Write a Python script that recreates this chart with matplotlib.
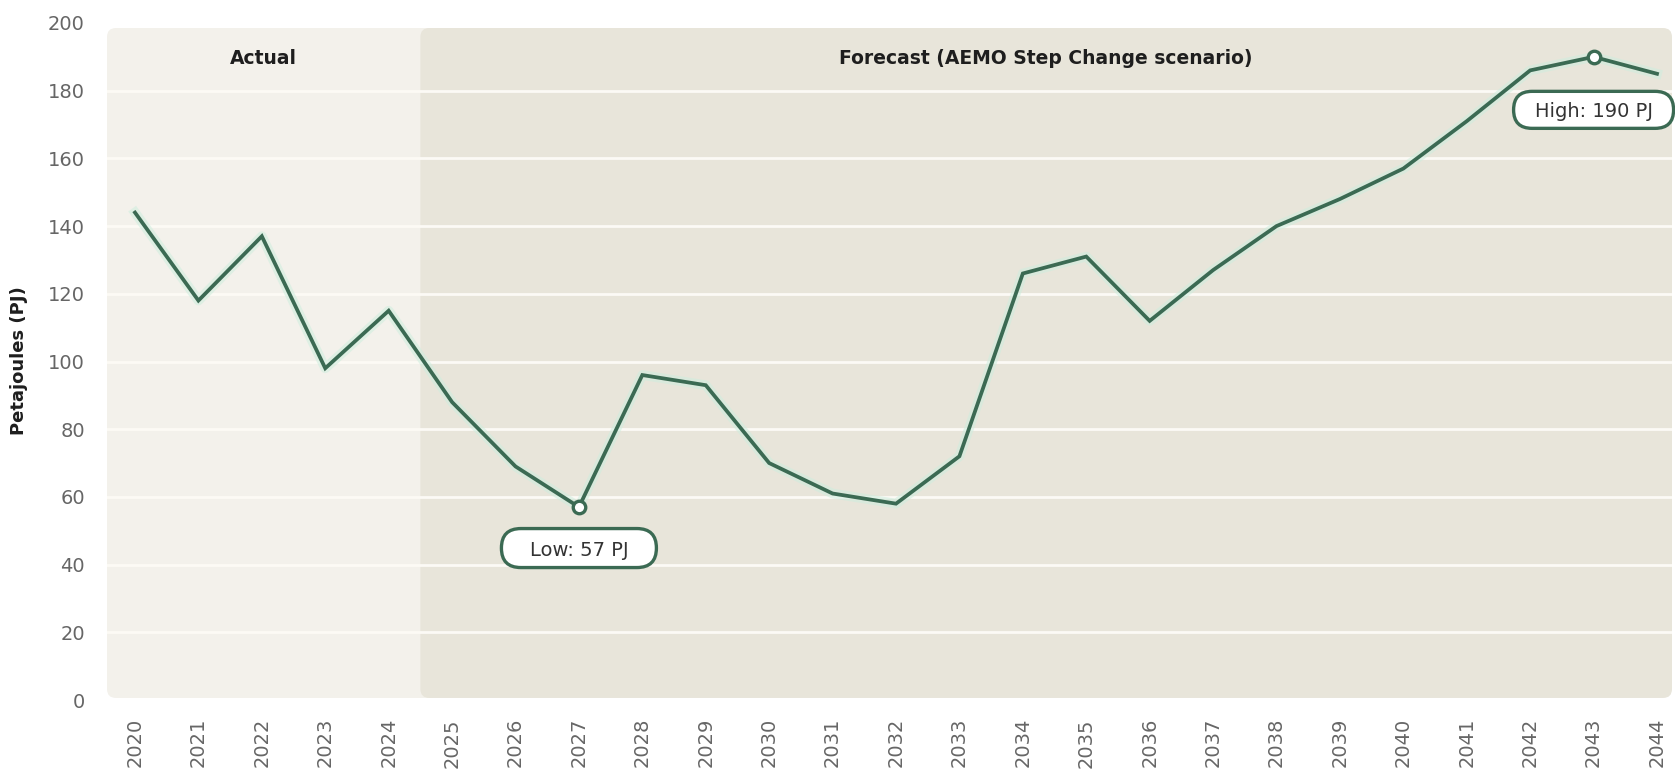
import matplotlib
matplotlib.use("Agg")
import matplotlib.pyplot as plt
import matplotlib.transforms as mtransforms
from matplotlib.patches import FancyBboxPatch

# ---- data -------------------------------------------------------------
years = [str(y) for y in range(2020, 2045)]
petajoules = [144, 118, 137, 98, 115, 88, 69, 57, 96, 93, 70, 61, 58, 72,
              126, 131, 112, 127, 140, 148, 157, 171, 186, 190, 185]
last_actual_year = "2024"
y_ticks = [0, 20, 40, 60, 80, 100, 120, 140, 160, 180, 200]
region_titles = ["Actual", "Forecast (AEMO Step Change scenario)"]
y_title = "Petajoules (PJ)"

# ---- style ------------------------------------------------------------
W, H, DPI = 1675, 773, 100
LINE = "#3b6a53"
GLOW = "#cdeede"
BG_ACTUAL = "#f3f1eb"
BG_FORECAST = "#e8e5da"
GRID = "#fcfaf5"
TICK_COLOR = "#666666"
TEXT_DARK = "#1e1e1e"

fig = plt.figure(figsize=(W / DPI, H / DPI), dpi=DPI)
fig.patch.set_facecolor("white")

ax_l, ax_r, ax_b, ax_t = 107, 1672, 700, 23      # pixel edges of the axes
ax = fig.add_axes([ax_l / W, (H - ax_b) / H, (ax_r - ax_l) / W, (ax_b - ax_t) / H])
ax_w_px, ax_h_px = ax_r - ax_l, ax_b - ax_t

x = list(range(len(years)))
xmin, xmax = -0.4415, len(years) - 1 + 0.2365
ax.set_xlim(xmin, xmax)
ax.set_ylim(y_ticks[0], y_ticks[-1])
ax.patch.set_visible(False)
for s in ax.spines.values():
    s.set_visible(False)

# ---- rounded background panels ----------------------------------------
px_per_x = ax_w_px / (xmax - xmin)
aspect = px_per_x / ax_h_px
radius_px = 9
blend = mtransforms.blended_transform_factory(ax.transData, ax.transAxes)
split = years.index(last_actual_year) + 0.5
y0_ax, y1_ax = 0.003, 0.9926
# the actual panel runs a little under the forecast panel so no gap shows
overlap = 2 * radius_px / px_per_x
for (a, b), col in [((xmin, split + overlap), BG_ACTUAL), ((split, xmax), BG_FORECAST)]:
    ax.add_patch(FancyBboxPatch(
        (a, y0_ax), b - a, y1_ax - y0_ax,
        boxstyle=f"round,pad=0,rounding_size={radius_px / px_per_x}",
        mutation_aspect=aspect, transform=blend,
        facecolor=col, edgecolor="none", zorder=0))

# horizontal guide lines
for v in y_ticks[1:-1]:
    ax.axhline(v, color=GRID, lw=2.0, zorder=1)

# region headings
ax.text((xmin + split) / 2, 0.948, region_titles[0], transform=blend,
        ha="center", va="center", fontsize=13.5, fontweight="bold", color=TEXT_DARK, zorder=3)
ax.text((split + xmax) / 2, 0.948, region_titles[1], transform=blend,
        ha="center", va="center", fontsize=13.5, fontweight="bold", color=TEXT_DARK, zorder=3)

# ---- series -----------------------------------------------------------
ax.plot(x, petajoules, color=GLOW, lw=7, alpha=0.55, solid_joinstyle="round", zorder=2)
ax.plot(x, petajoules, color=LINE, lw=2.7, solid_joinstyle="miter", zorder=4)

i_lo = petajoules.index(min(petajoules))
i_hi = petajoules.index(max(petajoules))
ax.plot([i_lo, i_hi], [petajoules[i_lo], petajoules[i_hi]], "o", ms=9,
        mfc="white", mec=LINE, mew=2.4, zorder=5)


def callout(i, label, dy_px, w_px, h_px):
    # pill-shaped label positioned in pixels relative to the data point
    tr = mtransforms.IdentityTransform() + mtransforms.ScaledTranslation(
        x[i], petajoules[i], ax.transData)
    ax.add_patch(FancyBboxPatch(
        (-w_px / 2, dy_px - h_px / 2), w_px, h_px,
        boxstyle=f"round,pad=0,rounding_size={h_px / 2}",
        transform=tr, facecolor="white", edgecolor=LINE, lw=2.4,
        zorder=6, clip_on=False))
    ax.text(0, dy_px, label, transform=tr, ha="center", va="center_baseline",
            fontsize=14, color="#333333", zorder=7, clip_on=False)


callout(i_lo, f"Low: {petajoules[i_lo]} PJ", -41, 155, 39)
callout(i_hi, f"High: {petajoules[i_hi]} PJ", -53, 160, 37)

# ---- axes ticks -------------------------------------------------------
ax.set_xticks(x)
ax.set_xticklabels(years, rotation=90, fontsize=14, color=TICK_COLOR)
ax.set_yticks(y_ticks)
ax.set_yticklabels([str(v) for v in y_ticks], fontsize=14, color=TICK_COLOR)
ax.tick_params(axis="x", length=0, pad=13)
ax.tick_params(axis="y", length=0, pad=16)
for lab in ax.get_xticklabels():
    lab.set_va("top")

fig.text(19 / W, 1 - 361 / H, y_title, rotation=90, ha="center", va="center",
         fontsize=13, fontweight="bold", color=TEXT_DARK)

fig.savefig("out.png", dpi=DPI)
